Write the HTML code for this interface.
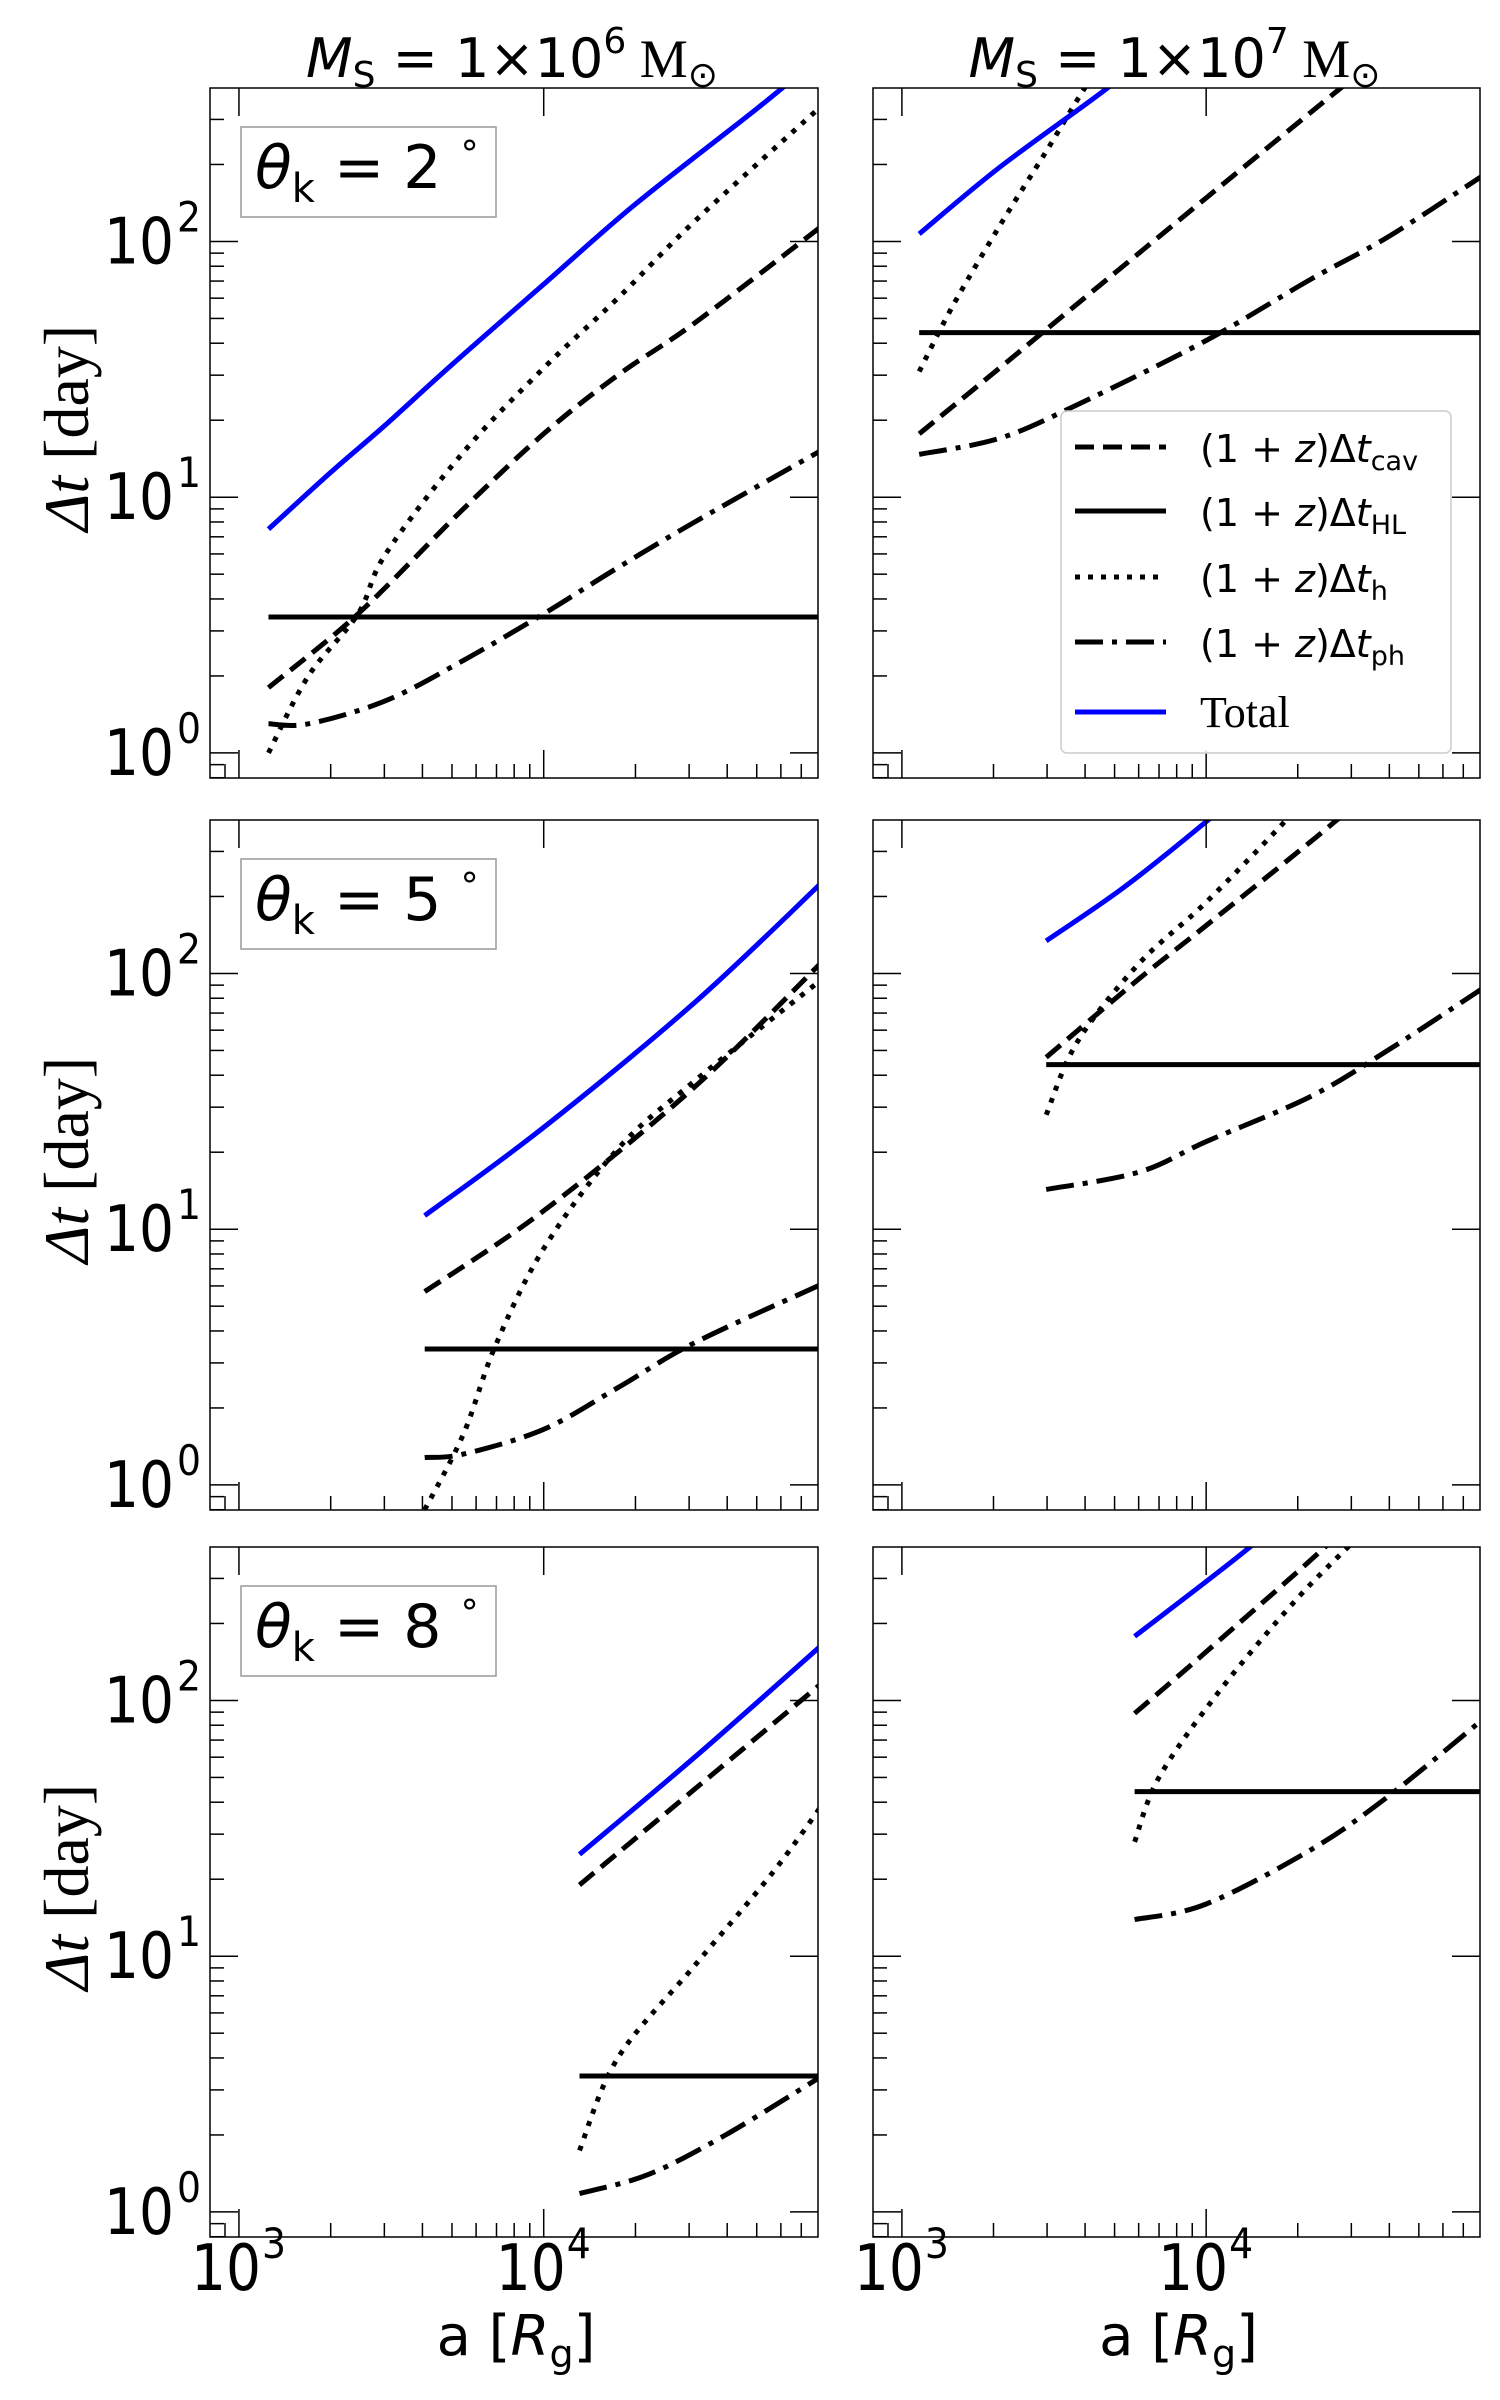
<!DOCTYPE html>
<html><head><meta charset="utf-8">
<style>
html,body{margin:0;padding:0;background:#fff;}
svg{display:block;}
</style></head>
<body>
<svg id="fig" width="1500" height="2400" viewBox="0 0 1500 2400" xmlns="http://www.w3.org/2000/svg" font-family="DejaVu Sans, Liberation Sans, sans-serif"></svg>
<script>
// ---- data (a in R_g, dt in days) ----
const panelAngles = [2, 2, 5, 5, 8, 8];
const panelMasses = [6, 7, 6, 7, 6, 7];
const hlValues = [3.4, 44, 3.4, 44, 3.4, 44];

const p1TotalA = [1250, 2000, 3000, 5000, 10000, 20000, 50000, 70000];
const p1TotalV = [7.5, 12.5, 19, 33, 68, 140, 330, 460];
const p1DotA = [1250, 1690, 2460, 3030, 5450, 10000, 17500, 31300, 81900];
const p1DotV = [1.0, 2.0, 3.5, 6, 15, 32, 60, 120, 340];
const p1DashA = [1250, 2460, 5450, 10000, 17500, 31300, 81900];
const p1DashV = [1.8, 3.5, 9, 17.7, 30, 48, 115];
const p1DdA = [1250, 1690, 3030, 5450, 10000, 17500, 31300, 81900];
const p1DdV = [1.3, 1.3, 1.6, 2.3, 3.5, 5.3, 8, 15.3];

const p2TotalA = [1140, 2095, 4760, 6000];
const p2TotalV = [107, 195, 400, 520];
const p2DotA = [1140, 1470, 2095, 2980, 4000, 4800];
const p2DotV = [31, 56, 115, 225, 400, 540];
const p2DashA = [1140, 2095, 3770, 10000, 27800, 35000];
const p2DashV = [17.7, 32, 57, 148, 400, 500];
const p2DdA = [1140, 2095, 3770, 10000, 22000, 39500, 81800];
const p2DdV = [14.7, 17, 23, 41, 71, 104, 182];

const p3TotalA = [4070, 10000, 31300, 81900];
const p3TotalV = [11.3, 25, 77, 227];
const p3DotA = [4070, 5450, 6940, 10000, 17500, 31300, 81900];
const p3DotV = [0.8, 1.58, 3.5, 8.4, 20.6, 38, 95];
const p3DashA = [4070, 10000, 31300, 81900];
const p3DashV = [5.7, 11.8, 36, 111];
const p3DdA = [4070, 5450, 10000, 17500, 31300, 81900];
const p3DdV = [1.28, 1.32, 1.65, 2.4, 3.6, 6.1];

const p4TotalA = [2980, 5390, 10200, 13000];
const p4TotalV = [134, 218, 400, 520];
const p4DotA = [2980, 3770, 6000, 10000, 18400, 22000];
const p4DotV = [28, 54, 109, 190, 400, 520];
const p4DashA = [2980, 6000, 10000, 27000, 33000];
const p4DashV = [47, 95, 154, 400, 520];
const p4DdA = [2980, 6000, 10000, 22000, 39500, 81800];
const p4DdV = [14.3, 16.7, 22, 33, 50, 88];

const p5TotalA = [13100, 31300, 81900];
const p5TotalV = [25, 60, 165];
const p5DotA = [13100, 17500, 31300, 56000, 81900];
const p5DotV = [1.74, 4, 9.2, 21, 39];
const p5DashA = [13100, 31300, 81900];
const p5DashV = [19, 45, 117];
const p5DdA = [13100, 22000, 39500, 81900];
const p5DdV = [1.18, 1.4, 2.0, 3.4];

const p6TotalA = [5820, 14000, 17000];
const p6TotalV = [178, 400, 520];
const p6DotA = [5820, 7000, 11000, 19600, 31200, 36000];
const p6DotV = [28, 50, 108, 245, 430, 520];
const p6DashA = [5820, 10000, 24700, 30000];
const p6DashV = [89, 155, 400, 520];
const p6DdA = [5820, 10000, 22000, 39500, 81800];
const p6DdV = [13.9, 16, 26, 42, 85];

const xTickLabels = ["3", "4"];
const yTickLabels = ["0", "1", "2"];

// ---- layout ----
const NS = "http://www.w3.org/2000/svg";
const svg = document.getElementById("fig");
const cols = [[210, 818], [873, 1480]];
const rows = [[88, 778], [820, 1510], [1547, 2237]];
const XMIN = 2.905, XMAX = 4.9, YMIN = -0.098, YMAX = 2.6;
const SERIF = "Liberation Serif, DejaVu Serif, serif";

function el(tag, attrs, parent) {
  const e = document.createElementNS(NS, tag);
  for (const k in attrs) e.setAttribute(k, attrs[k]);
  (parent || svg).appendChild(e);
  return e;
}
function xs(c, a) { const [l, r] = cols[c]; return l + (Math.log10(a) - XMIN) / (XMAX - XMIN) * (r - l); }
function ys(r, v) { const [t, b] = rows[r]; return b - (Math.log10(v) - YMIN) / (YMAX - YMIN) * (b - t); }

const panels = [
  [p1TotalA, p1TotalV, p1DotA, p1DotV, p1DashA, p1DashV, p1DdA, p1DdV],
  [p2TotalA, p2TotalV, p2DotA, p2DotV, p2DashA, p2DashV, p2DdA, p2DdV],
  [p3TotalA, p3TotalV, p3DotA, p3DotV, p3DashA, p3DashV, p3DdA, p3DdV],
  [p4TotalA, p4TotalV, p4DotA, p4DotV, p4DashA, p4DashV, p4DdA, p4DdV],
  [p5TotalA, p5TotalV, p5DotA, p5DotV, p5DashA, p5DashV, p5DdA, p5DdV],
  [p6TotalA, p6TotalV, p6DotA, p6DotV, p6DashA, p6DashV, p6DdA, p6DdV],
];

const defs = el("defs", {});
for (let i = 0; i < 6; i++) {
  const r = Math.floor(i / 2), c = i % 2;
  const cp = el("clipPath", { id: "clip" + i }, defs);
  el("rect", { x: cols[c][0], y: rows[r][0], width: cols[c][1] - cols[c][0], height: rows[r][1] - rows[r][0] }, cp);
}

function path(i, A, V, style, name) {
  const r = Math.floor(i / 2), c = i % 2;
  const P = A.map((a, k) => [xs(c, a), ys(r, V[k])]);
  let d = "M" + P[0][0].toFixed(1) + " " + P[0][1].toFixed(1);
  for (let k = 0; k < P.length - 1; k++) {
    const p0 = P[k - 1] || P[k], p1 = P[k], p2 = P[k + 1], p3 = P[k + 2] || P[k + 1];
    const c1 = [p1[0] + (p2[0] - p0[0]) / 6, p1[1] + (p2[1] - p0[1]) / 6];
    const c2 = [p2[0] - (p3[0] - p1[0]) / 6, p2[1] - (p3[1] - p1[1]) / 6];
    d += "C" + c1[0].toFixed(1) + " " + c1[1].toFixed(1) + " " + c2[0].toFixed(1) + " " + c2[1].toFixed(1) + " " + p2[0].toFixed(1) + " " + p2[1].toFixed(1);
  }
  const p = el("path", Object.assign({ d: d, fill: "none", "clip-path": "url(#clip" + i + ")", "stroke-linejoin": "round" }, style));
  
  
}

const ST_TOTAL = { stroke: "#0000ff", "stroke-width": 5 };
const ST_DOT = { stroke: "#000", "stroke-width": 5, "stroke-dasharray": "5 8" };
const ST_DASH = { stroke: "#000", "stroke-width": 5, "stroke-dasharray": "19 9" };
const ST_DD = { stroke: "#000", "stroke-width": 5, "stroke-dasharray": "28 9 5 9" };
const ST_HL = { stroke: "#000", "stroke-width": 5 };

for (let i = 0; i < 6; i++) {
  const r = Math.floor(i / 2), c = i % 2;
  const [l, rt] = cols[c], [t, b] = rows[r];
  const g = el("g", {});
  
  
  el("rect", { x: l, y: t, width: rt - l, height: b - t, fill: "#fff", stroke: "none" }, g);
  const P = panels[i];
  const startA = P[0][0];
  path(i, [startA, 1e6], [hlValues[i], hlValues[i]], ST_HL, "hl-line");
  path(i, P[6], P[7], ST_DD, "ph-line");
  path(i, P[4], P[5], ST_DASH, "cav-line");
  path(i, P[2], P[3], ST_DOT, "h-line");
  path(i, P[0], P[1], ST_TOTAL, "total-line");
  const fr = el("rect", { x: l, y: t, width: rt - l, height: b - t, fill: "none", stroke: "#000", "stroke-width": 1.5 });
  
  
  for (let e = 2; e <= 4; e++) for (let m = 1; m < 10; m++) {
    const a = m * Math.pow(10, e), lg = Math.log10(a);
    if (lg < XMIN || lg > XMAX) continue;
    const x = xs(c, a);
    const len = m === 1 ? 28 : 14;
    el("line", { x1: x, x2: x, y1: b, y2: b - len, stroke: "#000", "stroke-width": 1.5 });
    if (m === 1) el("line", { x1: x, x2: x, y1: t, y2: t + 28, stroke: "#000", "stroke-width": 1.5 });
  }
  for (let e = -1; e <= 2; e++) for (let m = 1; m < 10; m++) {
    const v = m * Math.pow(10, e), lg = Math.log10(v);
    if (lg < YMIN || lg > YMAX) continue;
    const y = ys(r, v);
    const len = m === 1 ? 28 : 14;
    el("line", { x1: l, x2: l + len, y1: y, y2: y, stroke: "#000", "stroke-width": 1.5 });
    if (m === 1) el("line", { x1: rt, x2: rt - 28, y1: y, y2: y, stroke: "#000", "stroke-width": 1.5 });
  }
  if (c === 0) {
    for (let k = 0; k < yTickLabels.length; k++) {
      const y = ys(r, Math.pow(10, +yTickLabels[k]));
      const t1 = el("text", { x: 104, y: y + 22, "font-size": 64, textLength: 70, lengthAdjust: "spacingAndGlyphs" });
      t1.textContent = "10";
      
      
      const t2 = el("text", { x: 177, y: y - 10, "font-size": 42, textLength: 24, lengthAdjust: "spacingAndGlyphs" });
      t2.textContent = yTickLabels[k];
      
      
    }
    const yl = el("text", { x: 0, y: 0, "font-size": 64, "font-family": SERIF, "text-anchor": "middle", transform: "translate(88," + ((t + b) / 2 - 5) + ") rotate(-90)" });
    yl.innerHTML = '<tspan font-style="italic">Δt</tspan> [day]';
    
    
    const bx = el("rect", { x: 241, y: t + 39, width: 255, height: 90, fill: "#fff", stroke: "#999", "stroke-width": 1.5 });
    
    
    const at = el("text", { x: 255, y: t + 100, "font-size": 60 });
    at.innerHTML = '<tspan font-style="italic">θ</tspan><tspan font-size="40" dy="14">k</tspan><tspan dy="-14"> = ' + panelAngles[i] + ' </tspan><tspan font-size="36" dy="-22">°</tspan>';
    
    
  }
  if (r === 2) {
    for (let k = 0; k < xTickLabels.length; k++) {
      const x = xs(c, Math.pow(10, +xTickLabels[k]));
      const t1 = el("text", { x: x - 48, y: 2290, "font-size": 64, textLength: 70, lengthAdjust: "spacingAndGlyphs" });
      t1.textContent = "10";
      
      
      const t2 = el("text", { x: x + 23, y: 2258, "font-size": 42, textLength: 24, lengthAdjust: "spacingAndGlyphs" });
      t2.textContent = xTickLabels[k];
      
      
    }
    const xl = el("text", { x: (l + rt) / 2 + 2, y: 2355, "font-size": 56, "text-anchor": "middle" });
    xl.innerHTML = 'a [<tspan font-style="italic">R</tspan><tspan font-size="38" dy="12">g</tspan><tspan dy="-12">]</tspan>';
    
    
  }
  if (r === 0) {
    const tt = el("text", { x: (l + rt) / 2 - 2, y: 77, "font-size": 54, "text-anchor": "middle" });
    tt.innerHTML = '<tspan font-style="italic">M</tspan><tspan font-size="36" dy="10">S</tspan><tspan dy="-10"> =  1×10</tspan><tspan font-size="36" dy="-24">' + panelMasses[i] + '</tspan><tspan dy="24" font-family="' + SERIF + '">  M</tspan><tspan font-size="36" dy="10">⊙</tspan>';
    
    
  }
}

const lg = el("g", {});


el("rect", { x: 1061, y: 411, width: 390, height: 342, rx: 6, fill: "#fff", "fill-opacity": 0.85, stroke: "#ccc", "stroke-width": 1.5 }, lg);
const legLabels = ["cav", "HL", "h", "ph"];
const legStyles = [ST_DASH, ST_HL, ST_DOT, ST_DD];
const legLineY = [447, 511, 577, 642, 712];
for (let k = 0; k < 5; k++) {
  const st = k < 4 ? legStyles[k] : ST_TOTAL;
  const ln = el("line", Object.assign({ x1: 1075, x2: 1166, y1: legLineY[k], y2: legLineY[k] }, st), lg);
  
  
  const tx = el("text", { x: 1200, y: legLineY[k] + 15, "font-size": 38 }, lg);
  if (k < 4) tx.innerHTML = '(1 + <tspan font-style="italic">z</tspan>)Δ<tspan font-style="italic">t</tspan><tspan font-size="27" dy="8">' + legLabels[k] + '</tspan>';
  else { tx.setAttribute("font-family", SERIF); tx.setAttribute("font-size", 44); tx.textContent = "Total"; }
  
  
}
</script>
</body></html>
